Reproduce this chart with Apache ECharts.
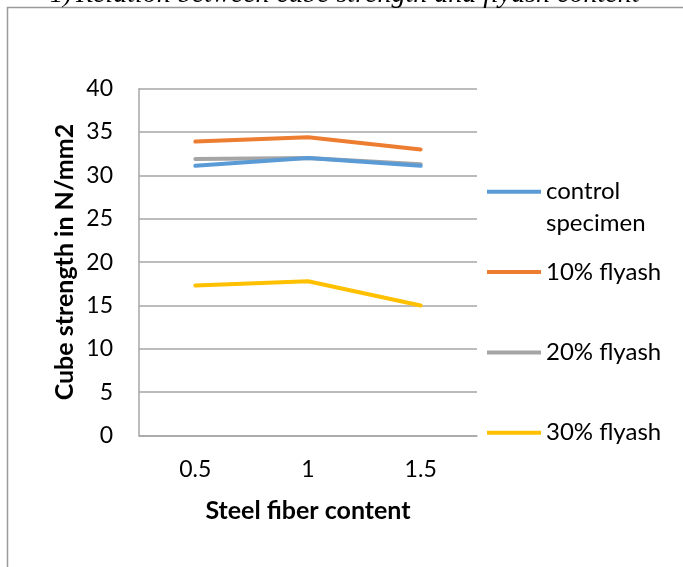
<!DOCTYPE html>
<html>
<head>
<meta charset="utf-8">
<script src="https://cdn.jsdelivr.net/npm/echarts@6/dist/echarts.min.js"></script>
<style>
html,body{margin:0;padding:0;background:#fff;}
#chart{width:683px;height:567px;}
</style>
</head>
<body>
<div id="chart"></div>
<script>
const categories = ['0.5', '1', '1.5'];
const seriesNames = ['control specimen', '10% flyash', '20% flyash', '30% flyash'];
const controlSpecimen = [31.1, 32.0, 31.1];
const flyash10 = [33.9, 34.4, 33.0];
const flyash20 = [31.9, 32.0, 31.3];
const flyash30 = [17.3, 17.8, 15.0];
const yTicks = { min: 0, max: 40, interval: 5 };
const colors = ['#5B9BD5', '#ED7D31', '#A5A5A5', '#FFC000'];
const titleNumber = '1)';
const titleText = 'Relation between cube strength and flyash content';

const chart = echarts.init(document.getElementById('chart'));
const values = [controlSpecimen, flyash10, flyash20, flyash30];
const legendCenters = [191.7, 272, 352.5, 432.7];
const legendFont = { fontFamily: 'Lato', fontSize: 24, color: '#000', lineHeight: 32 };

const legends = seriesNames.map((name, i) => {
  const multi = i === 0;
  return {
    data: [name],
    left: 487,
    top: multi ? legendCenters[i] - 48 : legendCenters[i] - 16,
    itemWidth: 54,
    itemHeight: 4,
    itemGap: 0,
    padding: 0,
    icon: 'rect',
    formatter: multi ? '\u00a0\ncontrol\nspecimen' : '{name}',
    textStyle: legendFont,
    selectedMode: false
  };
});

chart.setOption({
  backgroundColor: '#fff',
  animation: false,
  graphic: [
    { type: 'rect', shape: { x: 7.5, y: 7.5, width: 700, height: 600 }, style: { fill: 'none', stroke: '#9A9A9A', lineWidth: 1.5 } },
    { type: 'text', style: { x: 50, y: 8.5, text: titleNumber, font: 'italic 26px "Liberation Serif"', fill: '#000', textVerticalAlign: 'bottom' } },
    { type: 'text', style: { x: 76, y: 8.5, text: titleText, font: 'italic 28px "Liberation Serif"', fill: '#000', textVerticalAlign: 'bottom' } }
  ],
  legend: legends,
  grid: { left: 139, right: 206, top: 88.7, bottom: 131.5, containLabel: false },
  xAxis: {
    type: 'category',
    data: categories,
    boundaryGap: true,
    name: 'Steel fiber content',
    nameLocation: 'middle',
    nameGap: 63,
    nameTextStyle: { fontFamily: 'Lato', fontSize: 25, fontWeight: 'bold', color: '#000' },
    axisLine: { lineStyle: { color: '#A6A6A6', width: 1.5 } },
    axisTick: { show: false },
    axisLabel: { fontFamily: 'Lato', fontSize: 23, color: '#000', margin: 23 }
  },
  yAxis: {
    type: 'value',
    min: yTicks.min,
    max: yTicks.max,
    interval: yTicks.interval,
    name: 'Cube strength in N/mm2',
    nameLocation: 'middle',
    nameGap: 62,
    nameTextStyle: { fontFamily: 'Lato', fontSize: 25, fontWeight: 'bold', color: '#000' },
    axisLine: { show: true, lineStyle: { color: '#A6A6A6', width: 1.5 } },
    axisTick: { show: false },
    splitLine: { lineStyle: { color: '#A6A6A6', width: 1.5 } },
    axisLabel: { fontFamily: 'Lato', fontSize: 23, color: '#000', margin: 26 }
  },
  series: seriesNames.map((name, i) => ({
    name: name,
    type: 'line',
    data: values[i],
    color: colors[i],
    symbol: 'none',
    lineStyle: { width: 4, color: colors[i], cap: 'round' },
    z: 10 - i
  }))
});
</script>
</body>
</html>
